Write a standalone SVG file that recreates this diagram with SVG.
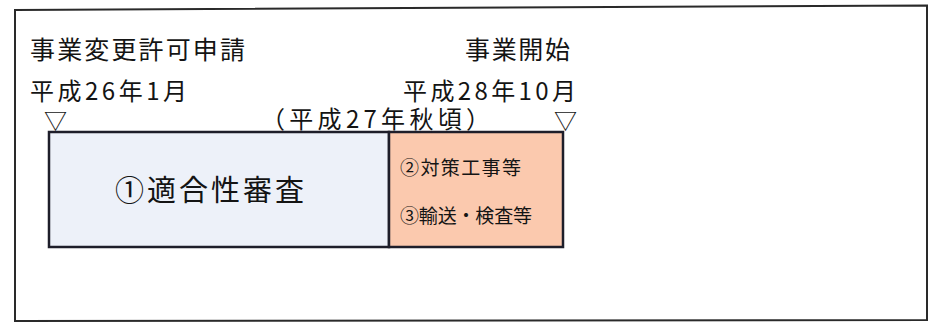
<svg xmlns="http://www.w3.org/2000/svg" width="930" height="323" viewBox="0 0 930 323">
<style>
text{font-family:"Noto Sans CJK JP","Noto Sans CJK SC",sans-serif;fill:#141414}
.lbl{font-size:25px}
.lbl2{font-size:24px}
.tri{font-size:23px}
.sm{font-size:19px}
.big{font-size:29px}
.box{stroke:#1e1e2a;stroke-width:2.5}
</style>
<rect x="0" y="0" width="930" height="323" fill="#ffffff"/>
<g id="frame">
<path d="M15,10 L927,5.5 L927,320 L15,321 Z" fill="#ffffff" stroke="#2a2a2a" stroke-width="2"/>
</g>
<g id="start">
<text class="lbl" x="30" y="58.5" textLength="215" lengthAdjust="spacing">事業変更許可申請</text>
<text class="lbl2" x="30" y="100" textLength="157" lengthAdjust="spacing">平成26年1月</text>
<text class="tri" x="44" y="128.5">▽</text>
</g>
<g id="end">
<text class="lbl" x="465" y="58.5" textLength="105" lengthAdjust="spacing">事業開始</text>
<text class="lbl2" x="403" y="100" textLength="173" lengthAdjust="spacing">平成28年10月</text>
<text class="tri" x="554" y="128.5">▽</text>
</g>
<g id="mid">
<text class="lbl2" x="261" y="127.5" textLength="229" lengthAdjust="spacing">（平成27年秋頃）</text>
</g>
<g id="review">
<rect class="box" x="49" y="132" width="340" height="115" fill="#edf1f9"/>
<text class="big" x="115" y="201" textLength="189" lengthAdjust="spacing">①適合性審査</text>
</g>
<g id="works">
<rect class="box" x="389" y="132" width="174" height="115" fill="#fbc9ae"/>
<text class="sm" x="400" y="174.5" textLength="121" lengthAdjust="spacing">②対策工事等</text>
<text class="sm" x="400" y="222.5" textLength="132" lengthAdjust="spacing">③輸送・検査等</text>
</g>
<g id="connectors"></g>
</svg>
